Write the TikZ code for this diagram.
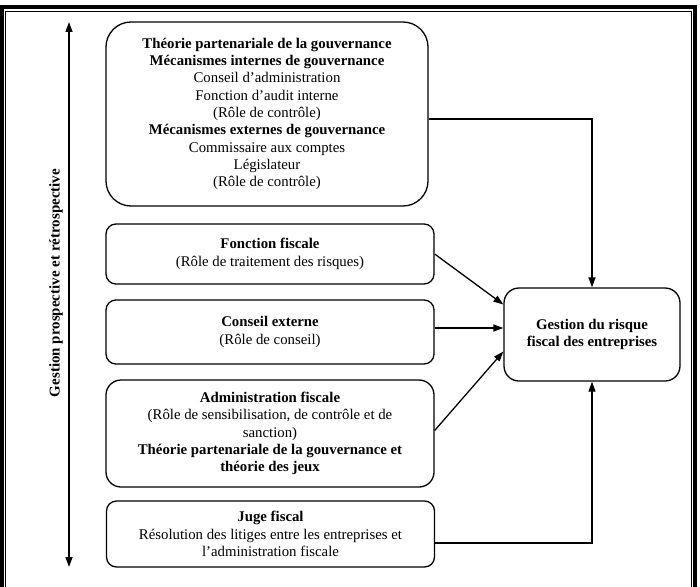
\documentclass[tikz,border=0pt]{standalone}
\usepackage{fontspec}
\setmainfont{Liberation Serif}
\usetikzlibrary{arrows.meta, positioning, calc}

\begin{document}
\begin{tikzpicture}[
  x=1pt, y=-1pt,
  box/.style   = {draw, line width=1.3pt, rounded corners=10pt, align=center,
                  minimum width=328pt, inner sep=2pt,
                  font=\fontsize{14.8}{17.3}\selectfont},
  arrow/.style = {line width=1.3pt, -{Triangle[length=10pt, width=7pt]}},
  axis/.style  = {line width=1.3pt, {Triangle[length=10pt, width=7pt]}-{Triangle[length=10pt, width=7pt]}}
]
  \useasboundingbox (0,0) rectangle (700,586);

  % double frame (bottom edge cut off)
  \draw[line width=4pt] (1.5,7) rectangle (695,600);
  \draw[line width=0.8pt] (5.5,11.5) rectangle (691.5,600);

  % Governance
  \node[box, rounded corners=25pt, minimum width=322pt, minimum height=184pt] (gov) at (267,114) {
    \textbf{Théorie partenariale de la gouvernance}\\
    \textbf{Mécanismes internes de gouvernance}\\
    Conseil d’administration\\
    Fonction d’audit interne\\
    (Rôle de contrôle)\\
    \textbf{Mécanismes externes de gouvernance}\\
    Commissaire aux comptes\\
    Législateur\\
    (Rôle de contrôle)
  };

  % Tax function
  \node[box, minimum height=60pt] (fonc) at (270,254) {
    \textbf{Fonction fiscale}\\
    (Rôle de traitement des risques)
  };

  % External advice
  \node[box, minimum height=64pt] (cons) at (270,332) {
    \textbf{Conseil externe}\\
    (Rôle de conseil)
  };

  % Tax administration
  \node[box, rounded corners=15pt, minimum height=107pt] (admin) at (270,433.5) {
    \textbf{Administration fiscale}\\
    (Rôle de sensibilisation, de contrôle et de\\
    sanction)\\
    \textbf{Théorie partenariale de la gouvernance et}\\
    \textbf{théorie des jeux}
  };

  % Tax judge
  \node[box, minimum height=66pt] (juge) at (270.5,534) {
    \textbf{Juge fiscal}\\
    Résolution des litiges entre les entreprises et\\
    l’administration fiscale
  };

  % Target
  \node[box, rounded corners=15pt, minimum width=176pt, minimum height=93pt] (risk) at (592,334.5) {
    \textbf{Gestion du risque}\\
    \textbf{fiscal des entreprises}
  };

  % vertical axis
  \coordinate (axtop) at (69,22);
  \coordinate (axbot) at (69,567);
  \draw[axis] (axbot) -- (axtop);
  \node[rotate=90, font=\fontsize{15}{17}\selectfont\bfseries] (axlbl) at (56,283)
    {Gestion prospective et rétrospective};

  % connectors
  \draw[arrow] ($(gov.east)+(0,5)$) -| (risk.north);
  \draw[arrow] (fonc.east) -- ($(risk.west)+(0,-30)$);
  \draw[arrow] ($(cons.east)+(0,-4)$) -- ($(risk.west)+(0,-6.5)$);
  \draw[arrow] ($(admin.east)+(0,-3)$) -- ($(risk.west)+(0,17)$);
  \draw[arrow] ($(juge.east)+(0,9)$) -| (risk.south);

\end{tikzpicture}
\end{document}
